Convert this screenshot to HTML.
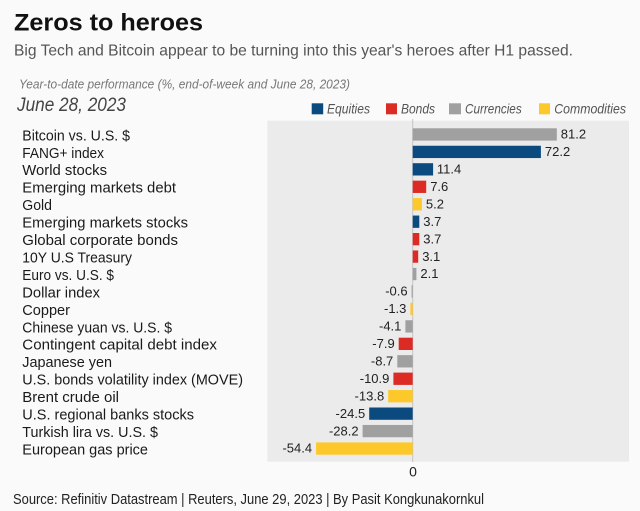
<!DOCTYPE html>
<html><head><meta charset="utf-8"><style>
html,body{margin:0;padding:0;background:#fafafa;}
svg{display:block;}
text{font-family:"Liberation Sans",sans-serif;}
</style></head><body>
<svg width="640" height="511" viewBox="0 0 640 511" xmlns="http://www.w3.org/2000/svg">
<rect x="0" y="0" width="640" height="511" fill="#fafafa"/>
<text x="14" y="30.7" font-size="24" font-weight="bold" fill="#111" textLength="189" lengthAdjust="spacingAndGlyphs">Zeros to heroes</text>
<text x="14" y="55.7" font-size="16" fill="#555" textLength="559" lengthAdjust="spacingAndGlyphs">Big Tech and Bitcoin appear to be turning into this year's heroes after H1 passed.</text>
<text x="19" y="88.3" font-size="12.5" font-style="italic" fill="#777" textLength="331" lengthAdjust="spacingAndGlyphs">Year-to-date performance (%, end-of-week and June 28, 2023)</text>
<text x="17" y="111" font-size="19" font-style="italic" fill="#444" textLength="109" lengthAdjust="spacingAndGlyphs">June 28, 2023</text>
<g font-size="14" font-style="italic" fill="#555">
<rect x="311.7" y="103.3" width="11.5" height="11" fill="#0b4a7f"/>
<text x="327" y="113.3" textLength="43" lengthAdjust="spacingAndGlyphs">Equities</text>
<rect x="386" y="103.3" width="11" height="11" fill="#dc2a24"/>
<text x="401" y="113.3" textLength="34" lengthAdjust="spacingAndGlyphs">Bonds</text>
<rect x="449" y="103.3" width="12" height="11" fill="#a0a0a0"/>
<text x="465" y="113.3" textLength="56.7" lengthAdjust="spacingAndGlyphs">Currencies</text>
<rect x="539" y="103.3" width="11" height="11" fill="#fdc82a"/>
<text x="554.3" y="113.3" textLength="71.7" lengthAdjust="spacingAndGlyphs">Commodities</text>
</g>
<rect x="267.3" y="120.7" width="361.7" height="341" fill="#ebebeb"/>
<line x1="412.7" y1="119" x2="412.7" y2="462" stroke="#c4c4c4" stroke-width="1"/>
<g font-size="15" fill="#1a1a1a">
<text x="22.3" y="140.3" textLength="107.7" lengthAdjust="spacingAndGlyphs">Bitcoin vs. U.S. $</text>
<text x="22.3" y="157.75" textLength="81.7" lengthAdjust="spacingAndGlyphs">FANG+ index</text>
<text x="22.3" y="175.2" textLength="84.7" lengthAdjust="spacingAndGlyphs">World stocks</text>
<text x="22.3" y="192.65" textLength="153.7" lengthAdjust="spacingAndGlyphs">Emerging markets debt</text>
<text x="22.3" y="210.1" textLength="29.7" lengthAdjust="spacingAndGlyphs">Gold</text>
<text x="22.3" y="227.55" textLength="165.7" lengthAdjust="spacingAndGlyphs">Emerging markets stocks</text>
<text x="22.3" y="245.0" textLength="155.7" lengthAdjust="spacingAndGlyphs">Global corporate bonds</text>
<text x="22.3" y="262.45" textLength="109.7" lengthAdjust="spacingAndGlyphs">10Y U.S Treasury</text>
<text x="22.3" y="279.9" textLength="91.7" lengthAdjust="spacingAndGlyphs">Euro vs. U.S. $</text>
<text x="22.3" y="297.35" textLength="77.7" lengthAdjust="spacingAndGlyphs">Dollar index</text>
<text x="22.3" y="314.8" textLength="47.7" lengthAdjust="spacingAndGlyphs">Copper</text>
<text x="22.3" y="332.25" textLength="149.7" lengthAdjust="spacingAndGlyphs">Chinese yuan vs. U.S. $</text>
<text x="22.3" y="349.7" textLength="194.7" lengthAdjust="spacingAndGlyphs">Contingent capital debt index</text>
<text x="22.3" y="367.15" textLength="89.7" lengthAdjust="spacingAndGlyphs">Japanese yen</text>
<text x="22.3" y="384.6" textLength="220.7" lengthAdjust="spacingAndGlyphs">U.S. bonds volatility index (MOVE)</text>
<text x="22.3" y="402.05" textLength="96.7" lengthAdjust="spacingAndGlyphs">Brent crude oil</text>
<text x="22.3" y="419.5" textLength="171.7" lengthAdjust="spacingAndGlyphs">U.S. regional banks stocks</text>
<text x="22.3" y="436.95" textLength="135.7" lengthAdjust="spacingAndGlyphs">Turkish lira vs. U.S. $</text>
<text x="22.3" y="454.4" textLength="125.7" lengthAdjust="spacingAndGlyphs">European gas price</text>
</g>
<g>
<rect x="412.7" y="128.3" width="144.1" height="12.3" fill="#a0a0a0"/>
<rect x="412.7" y="145.75" width="128.2" height="12.3" fill="#0b4a7f"/>
<rect x="412.7" y="163.2" width="20.4" height="12.3" fill="#0b4a7f"/>
<rect x="412.7" y="180.65" width="13.5" height="12.3" fill="#dc2a24"/>
<rect x="412.7" y="198.1" width="9.2" height="12.3" fill="#fdc82a"/>
<rect x="412.7" y="215.55" width="6.6" height="12.3" fill="#0b4a7f"/>
<rect x="412.7" y="233.0" width="6.6" height="12.3" fill="#dc2a24"/>
<rect x="412.7" y="250.45" width="5.5" height="12.3" fill="#dc2a24"/>
<rect x="412.7" y="267.9" width="3.7" height="12.3" fill="#a0a0a0"/>
<rect x="411.6" y="285.35" width="1.1" height="12.3" fill="#a0a0a0"/>
<rect x="410.4" y="302.8" width="2.3" height="12.3" fill="#fdc82a"/>
<rect x="405.4" y="320.25" width="7.3" height="12.3" fill="#a0a0a0"/>
<rect x="398.7" y="337.7" width="14.0" height="12.3" fill="#dc2a24"/>
<rect x="397.3" y="355.15" width="15.4" height="12.3" fill="#a0a0a0"/>
<rect x="393.4" y="372.6" width="19.3" height="12.3" fill="#dc2a24"/>
<rect x="388.2" y="390.05" width="24.5" height="12.3" fill="#fdc82a"/>
<rect x="369.2" y="407.5" width="43.5" height="12.3" fill="#0b4a7f"/>
<rect x="362.6" y="424.95" width="50.1" height="12.3" fill="#a0a0a0"/>
<rect x="316.1" y="442.4" width="96.6" height="12.3" fill="#fdc82a"/>
</g>
<g font-size="13" fill="#222">
<text x="560.8" y="138.6">81.2</text>
<text x="544.9" y="156.05">72.2</text>
<text x="436.9" y="173.5">11.4</text>
<text x="430.2" y="190.95">7.6</text>
<text x="425.9" y="208.4">5.2</text>
<text x="423.3" y="225.85">3.7</text>
<text x="423.3" y="243.3">3.7</text>
<text x="422.2" y="260.75">3.1</text>
<text x="420.4" y="278.2">2.1</text>
</g>
<g font-size="13" fill="#222" text-anchor="end">
<text x="407.6" y="295.65">-0.6</text>
<text x="406.4" y="313.1">-1.3</text>
<text x="401.4" y="330.55">-4.1</text>
<text x="394.7" y="348.0">-7.9</text>
<text x="393.3" y="365.45">-8.7</text>
<text x="389.4" y="382.9">-10.9</text>
<text x="384.2" y="400.35">-13.8</text>
<text x="365.2" y="417.8">-24.5</text>
<text x="358.6" y="435.25">-28.2</text>
<text x="312.1" y="452.7">-54.4</text>
</g>
<text x="413" y="476.7" font-size="14" fill="#222" text-anchor="middle">0</text>
<text x="13" y="504" font-size="14.5" fill="#222" textLength="471" lengthAdjust="spacingAndGlyphs">Source: Refinitiv Datastream | Reuters, June 29, 2023 | By Pasit Kongkunakornkul</text>
</svg>
</body></html>
